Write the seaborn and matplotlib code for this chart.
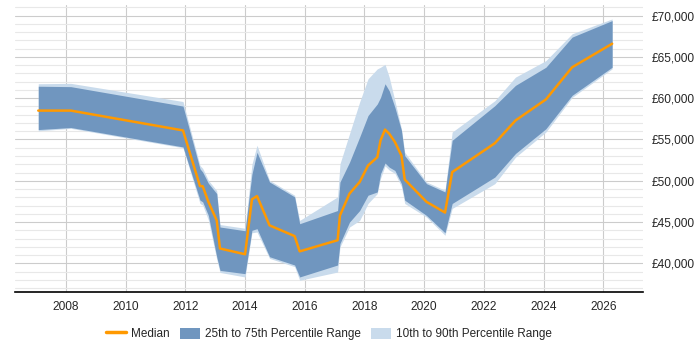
import numpy as np
import pandas as pd
import matplotlib.pyplot as plt
import seaborn as sns
from matplotlib.lines import Line2D
from matplotlib.patches import Patch
from matplotlib.ticker import FuncFormatter, MultipleLocator

# Values
years = [2007.07, 2008.16, 2011.92, 2012.49, 2012.58, 2012.77, 2013.05, 2013.16, 2014.0, 2014.23,
         2014.4, 2014.82, 2015.66, 2015.83, 2017.1, 2017.18, 2017.5, 2017.84, 2018.12, 2018.43,
         2018.54, 2018.69, 2018.83, 2019.02, 2019.24, 2019.35, 2020.08, 2020.7, 2020.94, 2022.37,
         2023.06, 2024.08, 2024.96, 2026.3]
median = [58500, 58500, 56100, 49350, 49350, 47450, 45200, 41800, 41100, 47750,
          48150, 44600, 43300, 41450, 42800, 45800, 48450, 49850, 51850, 52850,
          54900, 56200, 55700, 54700, 53050, 50150, 47450, 46150, 51050, 54550,
          57300, 59850, 63750, 66600]
p75 = [61450, 61400, 59050, 51450, 51050, 49700, 48450, 44400, 43950, 50800,
       53450, 49850, 48050, 44800, 46400, 49850, 52250, 55300, 57900, 59300,
       60100, 61750, 60900, 58900, 56100, 53050, 49650, 48650, 54900, 59100,
       61550, 63750, 67400, 69400]
p90 = [61750, 61800, 59600, 51850, 51500, 50050, 48800, 44700, 44250, 52000,
       54300, 50050, 48250, 45200, 48050, 52050, 55700, 59550, 62350, 63550,
       63750, 64100, 62550, 59700, 56300, 53450, 49850, 48850, 55900, 59700,
       62550, 64550, 67800, 69600]
p25 = [56200, 56450, 54100, 47650, 47450, 45800, 40800, 39150, 38750, 44000,
       44200, 40800, 39800, 38350, 39800, 42400, 45000, 46400, 48250, 48650,
       50850, 52150, 51650, 51250, 49650, 47650, 45800, 43700, 47250, 50450,
       53300, 56300, 60350, 63750]
p10 = [56050, 56350, 54000, 47250, 47050, 45250, 40500, 38900, 38350, 43700,
       43800, 40600, 39600, 37950, 38950, 42000, 44400, 45200, 47250, 48450,
       50300, 51800, 51300, 50900, 49300, 47250, 45600, 43400, 46650, 49650,
       52850, 55900, 60100, 63550]

df = pd.DataFrame({'year': years, 'median': median, 'p10': p10, 'p25': p25, 'p75': p75, 'p90': p90})

dark = '#7096bf'
light = '#c9dbec'
orange = '#ff9900'

sns.set_style('white')
plt.rcParams['font.family'] = ['Liberation Sans', 'DejaVu Sans']

fig = plt.figure(figsize=(7, 3.5), dpi=100)
ax = fig.add_axes([0.0214, 0.165, 0.897, 0.821])

# bands
ax.fill_between(df['year'], df['p10'], df['p90'], color=light, lw=0, zorder=2)
ax.fill_between(df['year'], df['p25'], df['p75'], color=dark, lw=0, zorder=3)
sns.lineplot(data=df, x='year', y='median', color=orange, linewidth=1.8, ax=ax, zorder=4)

ax.set_xlim(2006.29, 2027.33)
ax.set_ylim(36500, 71300)
ax.xaxis.set_major_locator(MultipleLocator(2))
ax.yaxis.set_major_locator(MultipleLocator(5000))
ax.yaxis.set_minor_locator(MultipleLocator(1000))
ax.yaxis.set_major_formatter(FuncFormatter(lambda v, p: f'£{v:,.0f}'))
ax.yaxis.tick_right()

ax.grid(axis='x', which='major', color='#cccccc', lw=0.8, zorder=0)
ax.grid(axis='y', which='major', color='#cccccc', lw=0.8, zorder=0)
ax.grid(axis='y', which='minor', color='#e8e8e8', lw=0.8, zorder=0)
ax.set_axisbelow(True)

for s in ['top', 'left', 'right']:
    ax.spines[s].set_visible(False)
ax.spines['bottom'].set_color('black')
ax.spines['bottom'].set_linewidth(1.2)

ax.tick_params(axis='x', which='major', length=3, color='black', labelsize=8.6, pad=3)
ax.tick_params(axis='y', which='both', length=0, labelsize=8.6, pad=6)
ax.set_xlabel('')
ax.set_ylabel('')

handles = [Line2D([0], [0], color=orange, lw=2.5),
           Patch(facecolor=dark, edgecolor='none'),
           Patch(facecolor=light, edgecolor='none')]
labels = ['Median', '25th to 75th Percentile Range', '10th to 90th Percentile Range']
if ax.get_legend():
    ax.get_legend().remove()
fig.legend(handles, labels, loc='center', bbox_to_anchor=(0.47, 0.046), ncol=3, frameon=False,
           fontsize=8.5, handlelength=1.7, handleheight=1.1, columnspacing=0.85, handletextpad=0.42)

plt.savefig('out.png', dpi=100)
